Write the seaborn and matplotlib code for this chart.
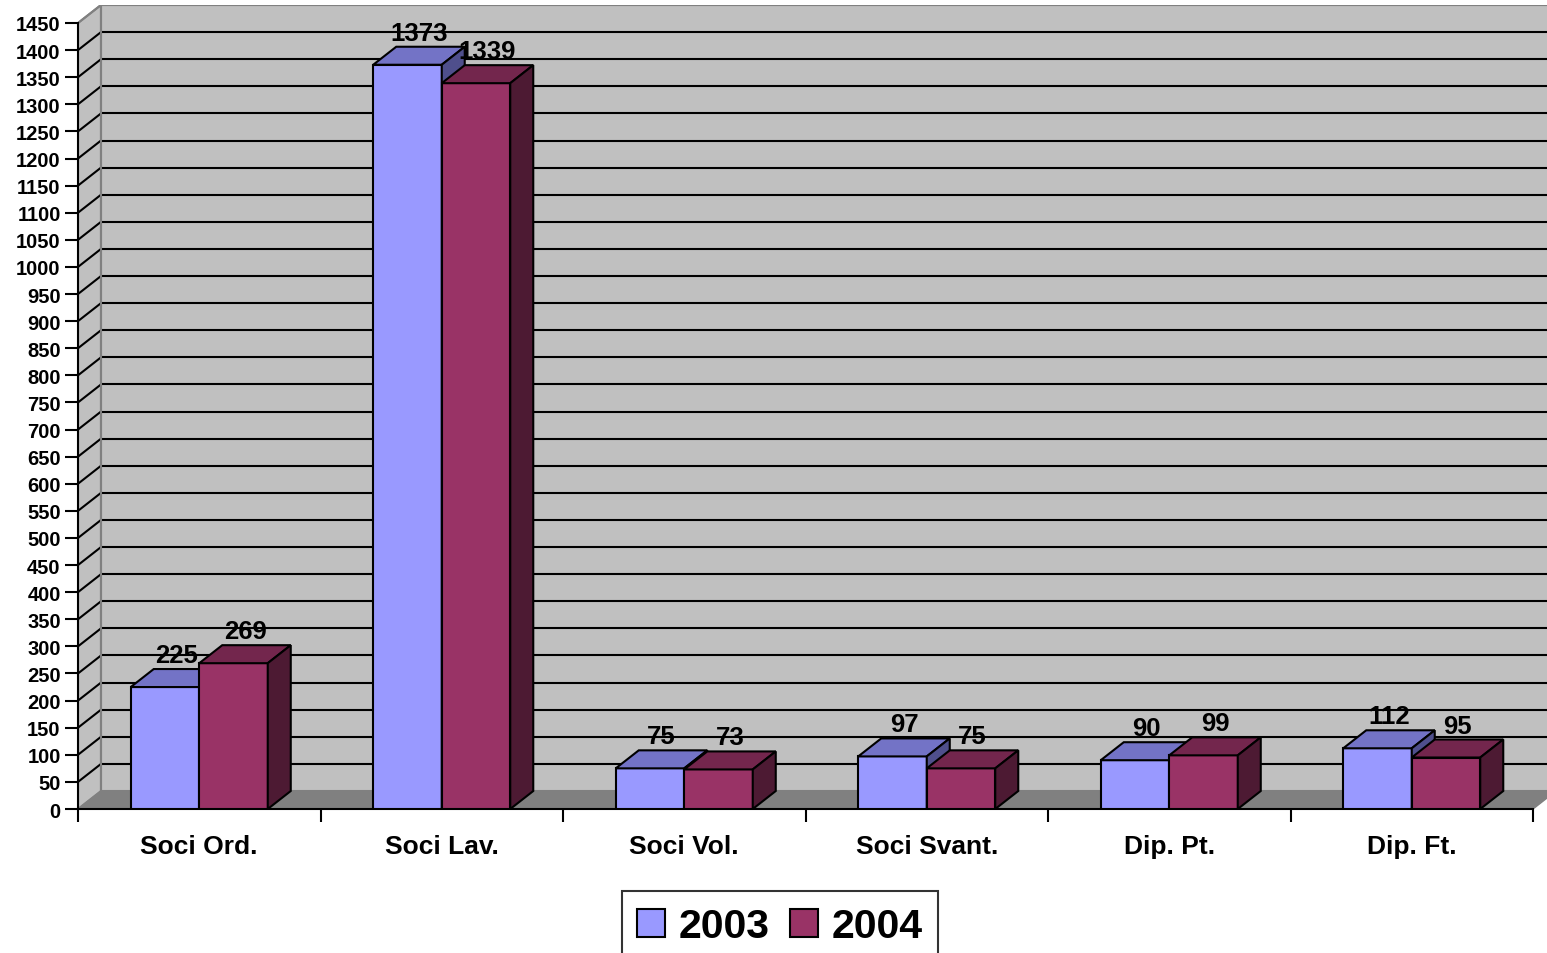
import numpy as np
import pandas as pd
import matplotlib
matplotlib.use("Agg")
import matplotlib.pyplot as plt
from matplotlib.patches import Polygon, Patch
import seaborn as sns

# ---- data ----
categories = ["Soci Ord.", "Soci Lav.", "Soci Vol.", "Soci Svant.", "Dip. Pt.", "Dip. Ft."]
years = ["2003", "2004"]
values_2003 = [225, 1373, 75, 97, 90, 112]
values_2004 = [269, 1339, 73, 75, 99, 95]
y_ticks = list(range(0, 1451, 50))

# ---- styles ----
front_colors = ["#9999FF", "#993366"]
top_colors = ["#7373C6", "#73264D"]
side_colors = ["#4F4F8C", "#4D1A33"]
wall_color = "#C0C0C0"
floor_color = "#808080"

sns.set_theme(style="white")
plt.rcParams["font.family"] = ["Liberation Sans", "DejaVu Sans"]
plt.rcParams["font.weight"] = "bold"
plt.rcParams["text.color"] = "black"
plt.rcParams["xtick.color"] = "black"
plt.rcParams["ytick.color"] = "black"
plt.rcParams["xtick.labelcolor"] = "black"
plt.rcParams["ytick.labelcolor"] = "black"
plt.rcParams["axes.labelcolor"] = "black"

W, H = 1547, 954
fig = plt.figure(figsize=(W / 100, H / 100), dpi=100)
fig.patch.set_facecolor("white")

# pixel geometry of the front frame
x_left_px, x_right_px = 78, 1533
y0_px, y1450_px = 810, 24
cat_px = (x_right_px - x_left_px) / 6.0
val_px = (y0_px - y1450_px) / 1450.0
depth_dx_px, depth_dy_px = 23, 18
DX = depth_dx_px / cat_px
DY = depth_dy_px / val_px
top_px = 6

ax = fig.add_axes([x_left_px / W, 1 - y0_px / H, (W - x_left_px) / W, (y0_px - top_px) / H])
ax.set_facecolor("none")

df = pd.DataFrame({
    "category": categories * 2,
    "year": [years[0]] * len(categories) + [years[1]] * len(categories),
    "value": values_2003 + values_2004,
})

sns.barplot(data=df, x="category", y="value", hue="year", order=categories,
            hue_order=years, palette=front_colors, saturation=1, width=0.565,
            edgecolor="black", linewidth=1.5, errorbar=None, legend=False, ax=ax)

xmin = -0.5
xmax = -0.5 + (W - x_left_px) / cat_px
ax.set_xlim(xmin, xmax)
ax.set_ylim(0, (y0_px - top_px) / val_px)

vmax = 1450
xa, xb = -0.5, len(categories) - 0.5

# walls
left_wall = Polygon([(xa, 0), (xa, vmax), (xa + DX, vmax + DY), (xa + DX, DY)],
                    closed=True, facecolor=wall_color, edgecolor="#808080", lw=1.5, zorder=0.5)
ax.add_patch(left_wall)
back_wall = Polygon([(xa + DX, DY), (xb + DX, DY), (xb + DX, vmax + DY), (xa + DX, vmax + DY)],
                    closed=True, facecolor=wall_color, edgecolor="#808080", lw=1.5, zorder=0.5)
ax.add_patch(back_wall)
for v in y_ticks[1:]:
    col = "#808080" if v == vmax else "black"
    ax.plot([xa + DX, xb + DX], [v + DY, v + DY], color=col, lw=1.5, zorder=0.8, solid_capstyle="butt")
    ax.plot([xa, xa + DX], [v, v + DY], color=col, lw=1.5, zorder=0.8)
ax.plot([xa + DX, xa + DX], [DY, vmax + DY], color="#808080", lw=1.5, zorder=0.9)
floor = Polygon([(xa, 0), (xb, 0), (xb + DX, DY), (xa + DX, DY)], closed=True,
                facecolor=floor_color, edgecolor="#808080", lw=1.0, zorder=1.0)
ax.add_patch(floor)

# 3D faces for bars
for h, cont in enumerate(ax.containers):
    for bar in cont:
        x0 = bar.get_x()
        w = bar.get_width()
        hv = bar.get_height()
        base_z = 3 + h * 0.1
        bar.set_zorder(base_z)
        top = Polygon([(x0, hv), (x0 + w, hv), (x0 + w + DX, hv + DY), (x0 + DX, hv + DY)],
                      closed=True, facecolor=top_colors[h], edgecolor="black", lw=1.5,
                      zorder=base_z + 0.05)
        side = Polygon([(x0 + w, 0), (x0 + w + DX, DY), (x0 + w + DX, hv + DY), (x0 + w, hv)],
                       closed=True, facecolor=side_colors[h], edgecolor="black", lw=1.5,
                       zorder=base_z + 0.05)
        ax.add_patch(top)
        ax.add_patch(side)
        ax.text(x0 + w / 2 + DX / 2, hv + DY + 14 / val_px, f"{int(round(hv))}",
                ha="center", va="center", fontsize=18.5, fontweight="bold",
                color="black", zorder=10, clip_on=False)

# axes, ticks
for s in ["top", "right"]:
    ax.spines[s].set_visible(False)
ax.spines["left"].set_bounds(0, vmax)
ax.spines["bottom"].set_bounds(xa, xb)
for s in ["left", "bottom"]:
    ax.spines[s].set_color("black")
    ax.spines[s].set_linewidth(1.5)
    ax.spines[s].set_zorder(2.5)

ax.set_yticks(y_ticks)
ax.set_yticklabels([str(v) for v in y_ticks], fontsize=14.5, fontweight="bold", color="black")
ax.tick_params(axis="y", which="major", direction="out", length=9.5, width=1.5,
               pad=3, color="black", left=True)

ax.set_xticks(np.arange(xa, xb + 0.01, 1.0))
ax.set_xticklabels([])
ax.set_xticks(range(len(categories)), minor=True)
ax.set_xticklabels(categories, minor=True, fontsize=19, fontweight="bold", color="black")
ax.tick_params(axis="x", which="major", direction="out", length=9.5, width=1.5,
               color="black", bottom=True)
ax.tick_params(axis="x", which="minor", length=0, pad=18, bottom=True)
ax.set_xlabel("")
ax.set_ylabel("")
ax.grid(False)

# legend
handles = [Patch(facecolor=c, edgecolor="black", linewidth=1.5) for c in front_colors]
leg = fig.legend(handles, years, loc="center", bbox_to_anchor=(780 / W, 1 - 927 / H),
                 ncol=2, frameon=True, fancybox=False, edgecolor="black",
                 prop={"size": 29.5, "weight": "bold"}, handlelength=0.68, handleheight=0.68,
                 handletextpad=0.33, columnspacing=0.5, borderpad=0.38, borderaxespad=0)
leg.get_frame().set_linewidth(1.5)
leg.get_frame().set_facecolor("white")
for t in leg.get_texts():
    t.set_color("black")

fig.savefig("out.png", dpi=100, facecolor="white")
